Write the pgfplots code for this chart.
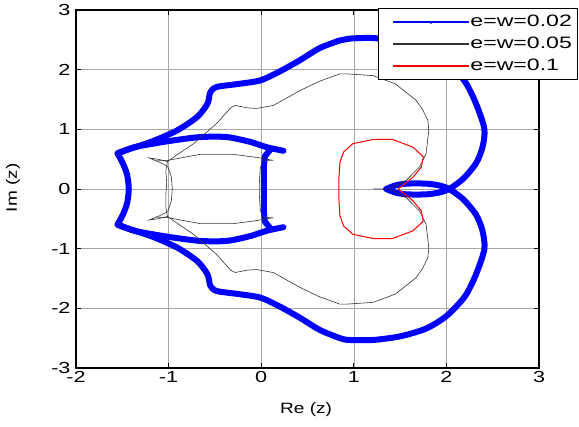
\documentclass[border=0pt]{standalone}
\usepackage{fontspec}
\setmainfont{Liberation Sans}
\usepackage{graphicx}
\usepackage{pgfplots}
\pgfplotsset{compat=1.18}
\newcommand{\wt}[1]{\scalebox{1.35}[1]{#1}}
\newcommand{\wl}[1]{\scalebox{1.4}[1]{#1}}
\newcommand{\wa}[1]{\scalebox{1.27}[1]{#1}}
\begin{document}
\begin{tikzpicture}[font=\fontsize{16bp}{19bp}\selectfont]
\begin{axis}[
  name=ax,
  scale only axis,
  width=463bp, height=358bp,
  xmin=-2, xmax=3, ymin=-3, ymax=3,
  xtick={-2,-1,0,1,2,3}, ytick={-3,-2,-1,0,1,2,3},
  /pgf/number format/assume math mode=true,
  xticklabel={\wt{\pgfmathprintnumber{\tick}}},
  yticklabel={\wt{\pgfmathprintnumber{\tick}}},
  ticklabel style={font=\fontsize{16bp}{19bp}\selectfont},
  yticklabel style={xshift=-2bp},
  label style={font=\fontsize{15bp}{18bp}\selectfont},
  grid=major,
  major grid style={gray!70, line width=0.6bp},
  tick align=inside,
  major tick length=5bp,
  tick style={black, line width=0.8bp},
  axis line style={black, line width=1.2bp},
  xlabel={\wa{Re (z)}}, ylabel={\wa{Im (z)}},
  xlabel style={at={(axis description cs:0.497,-0.117)}, anchor=center},
  ylabel style={at={(axis description cs:-0.136,0.503)}, anchor=center},
  legend style={at={(axis description cs:0.652,1.006)}, anchor=north west,
    draw=black, line width=1bp, fill=white, inner xsep=4bp, inner ysep=5bp,
    row sep=5bp, cells={anchor=west}, font=\fontsize{16.5bp}{19bp}\selectfont},
]
\addlegendimage{draw=blue, fill=blue, line width=0.1bp,
  legend image code/.code={\fill[fill=white,opacity=0,line width=0.1bp] (0bp,-1bp) rectangle (1bp,1bp); \fill[fill=blue, line width=0.1bp] (11bp,-0.45bp) rectangle (86bp,0.45bp); \fill[fill=blue, line width=0.1bp] (48.5bp,-0.6bp) circle (1.4bp);}}
\addlegendentry{\wl{e=w=0.02}}
\addplot[blue, line width=6bp, line join=round, line cap=round, smooth, tension=0.45, forget plot]
coordinates {
(-1.55,0.59) (-1.52,0.62) (-1.19,0.79) (-0.91,0.98) (-0.69,1.21) (-0.58,1.43) (-0.55,1.62) (-0.48,1.71) (-0.25,1.76) (-0.01,1.82) (0.20,1.97) (0.42,2.16) (0.63,2.36) (0.85,2.49) (0.95,2.52) (1.21,2.53) (1.50,2.47) (1.78,2.34) (2.00,2.13) (2.20,1.80) (2.32,1.43) (2.41,1.01) (2.39,0.70) (2.32,0.43) (2.18,0.17) (2.03,0)
(1.92,-0.06) (1.78,-0.09) (1.57,-0.09) (1.45,-0.06) (1.35,0)
};
\addplot[blue, line width=6bp, line join=round, line cap=round, smooth, tension=0.45, forget plot] coordinates {
(1.35,0) (1.45,0.06) (1.57,0.09) (1.78,0.09) (1.92,0.06) (2.03,0)
(2.18,-0.17) (2.32,-0.43) (2.39,-0.70) (2.41,-1.01) (2.32,-1.43) (2.20,-1.80) (2.00,-2.13) (1.78,-2.34) (1.50,-2.47) (1.21,-2.53) (0.95,-2.53) (0.85,-2.50) (0.63,-2.36) (0.42,-2.16) (0.20,-1.97) (-0.01,-1.82) (-0.25,-1.76) (-0.48,-1.71) (-0.55,-1.62) (-0.58,-1.43) (-0.69,-1.21) (-0.91,-0.98) (-1.19,-0.79) (-1.52,-0.62) (-1.55,-0.59)
};
\addplot[blue, line width=6bp, line join=round, line cap=round, smooth, tension=0.45, forget plot] coordinates {
(-1.55,-0.59) (-1.50,-0.45) (-1.45,-0.25) (-1.43,0) (-1.45,0.25) (-1.50,0.45) (-1.55,0.59)
};
\addplot[blue, line width=6bp, line join=round, line cap=round, smooth, tension=0.45, forget plot] coordinates {
(0.24,0.64) (0.06,0.70) (-0.12,0.79) (-0.37,0.87) (-0.66,0.87) (-1.01,0.80) (-1.37,0.70) (-1.55,0.59)
};
\addplot[blue, line width=6bp, line join=round, line cap=round, smooth, tension=0.45, forget plot] coordinates {
(0.24,-0.64) (0.06,-0.70) (-0.12,-0.79) (-0.37,-0.87) (-0.66,-0.87) (-1.01,-0.80) (-1.37,-0.70) (-1.55,-0.59)
};
\addplot[blue, line width=6bp, line join=round, line cap=round, forget plot] coordinates {
(0.10,0.66) (0.04,0.55) (0.03,0.40) (0.03,0.0) (0.03,-0.40) (0.04,-0.55) (0.10,-0.66)
};
\addplot[black!80, line width=0.6bp,
  legend image code/.code={\fill[fill=white,opacity=0,line width=0.1bp] (0bp,-1bp) rectangle (1bp,1bp); \fill[fill=black!75, line width=0.1bp] (11bp,-0.3bp) rectangle (86bp,0.3bp);}]
coordinates {
(1.21,0) (1.38,0) (1.57,0.15) (1.71,0.37) (1.78,0.59) (1.81,0.98) (1.80,1.15) (1.74,1.34) (1.67,1.49) (1.45,1.76) (1.21,1.90) (0.92,1.93) (0.85,1.93) (0.62,1.80) (0.42,1.65) (0.13,1.40) (-0.05,1.35) (-0.15,1.36) (-0.28,1.40) (-0.33,1.36) (-0.48,1.10) (-0.73,0.76) (-0.94,0.54) (-1.01,0.46)
(-1.12,0.50) (-1.21,0.52) (-1.10,0.45) (-1.01,0.38) (-0.97,0.20) (-0.96,0) (-0.97,-0.20) (-1.01,-0.38) (-1.10,-0.45) (-1.21,-0.52) (-1.12,-0.50) (-1.01,-0.46)
(-0.94,-0.54) (-0.73,-0.76) (-0.48,-1.10) (-0.33,-1.36) (-0.28,-1.40) (-0.15,-1.36) (-0.05,-1.35) (0.13,-1.40) (0.42,-1.65) (0.62,-1.80) (0.85,-1.93) (0.92,-1.93) (1.21,-1.90) (1.45,-1.76) (1.67,-1.49) (1.74,-1.34) (1.80,-1.15) (1.81,-0.98) (1.78,-0.59) (1.71,-0.37) (1.57,-0.15) (1.38,0)
};
\addlegendentry{\wl{e=w=0.05}}
\addplot[black!80, line width=0.6bp, forget plot] coordinates {
(-1.14,0.47) (-1.01,0.48) (-0.66,0.58) (-0.30,0.58) (-0.05,0.53) (0.13,0.48) (0.02,0.48) (-0.01,0.35) (-0.02,0.10) (-0.02,-0.10) (-0.01,-0.35) (0.02,-0.48) (0.13,-0.48) (-0.05,-0.53) (-0.30,-0.58) (-0.66,-0.58) (-1.01,-0.48) (-1.14,-0.47)
};
\addplot[black!80, line width=0.6bp, forget plot] coordinates {
(-1.01,0.48) (-1.03,0.30) (-1.02,0.10) (-1.03,-0.10) (-1.03,-0.30) (-1.01,-0.48)
};
\addplot[red, line width=1bp,
  legend image code/.code={\fill[fill=white,opacity=0,line width=0.1bp] (0bp,-1bp) rectangle (1bp,1bp); \fill[fill=red, line width=0.1bp] (11bp,-0.5bp) rectangle (86bp,0.5bp);}]
coordinates {
(1.48,0) (1.64,0.20) (1.73,0.37) (1.75,0.54) (1.64,0.70) (1.42,0.83) (1.21,0.83) (0.99,0.76) (0.89,0.62) (0.85,0.45) (0.84,0.20) (0.84,0)
(0.84,-0.20) (0.85,-0.45) (0.89,-0.62) (0.99,-0.76) (1.21,-0.83) (1.42,-0.83) (1.64,-0.70) (1.75,-0.54) (1.73,-0.37) (1.64,-0.20) (1.48,0)
};
\addlegendentry{\wl{e=w=0.1}}
\coordinate (BL) at (rel axis cs:0,0);
\coordinate (TR) at (rel axis cs:1,1);
\end{axis}
\pgfresetboundingbox
\path[use as bounding box] ([shift={(-76bp,-59bp)}]BL) rectangle ([shift={(40bp,10bp)}]TR);
\end{tikzpicture}
\end{document}
